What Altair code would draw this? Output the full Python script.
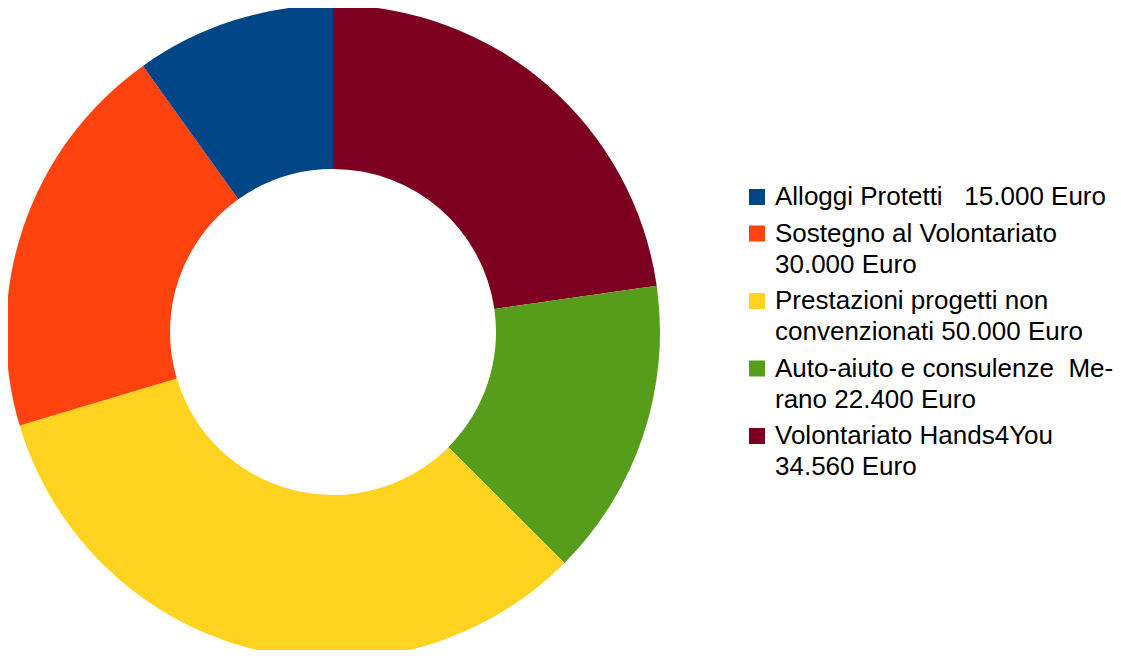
import altair as alt
import pandas as pd

# Data (clockwise from 12 o'clock in the ring)
categories = ["Volontariato Hands4You", "Auto-aiuto e consulenze Merano",
              "Prestazioni progetti non convenzionati", "Sostegno al Volontariato",
              "Alloggi Protetti"]
values = [34560, 22400, 50000, 30000, 15000]
colors = ["#7e0021", "#579d1c", "#ffd320", "#ff420e", "#004586"]

NB = "\u00a0"
# Legend (top to bottom), each entry may wrap over two lines
legend_order = ["Alloggi Protetti", "Sostegno al Volontariato",
                "Prestazioni progetti non convenzionati",
                "Auto-aiuto e consulenze Merano", "Volontariato Hands4You"]
legend_lines = [
    ["Alloggi Protetti" + NB + NB + " 15.000 Euro"],
    ["Sostegno al Volontariato", "30.000 Euro"],
    ["Prestazioni progetti non", "convenzionati 50.000 Euro"],
    ["Auto-aiuto e consulenze" + NB + " Me-", "rano 22.400 Euro"],
    ["Volontariato Hands4You", "34.560 Euro"],
]

W, H = 1105, 642
CX, CY = 325, 324
R_OUT, R_IN = 327, 163
FONT = "Liberation Sans"
FS = 26
LINE_H = 31
GAP = 5.5
LEG_TOP = 189  # center of first legend line (plot coords)
SYM_X = 749
TXT_X = 767

df = pd.DataFrame({"cat": categories, "value": values, "ord": list(range(len(categories)))})

color_scale = alt.Scale(domain=categories, range=colors)

ring = alt.Chart(df).mark_arc(radius=R_OUT, radius2=R_IN, stroke=None).encode(
    theta=alt.Theta("value:Q", stack=True),
    color=alt.Color("cat:N", scale=color_scale, legend=None),
    order=alt.Order("ord:Q"),
    x=alt.value(CX),
    y=alt.value(CY),
)

# Build legend rows
sym_rows, txt_rows = [], []
y = LEG_TOP
for cat, lines in zip(legend_order, legend_lines):
    sym_rows.append({"cat": cat, "py": y})
    for i, t in enumerate(lines):
        txt_rows.append({"cat": cat, "py": y + i * LINE_H, "txt": t})
    y += len(lines) * LINE_H + GAP

sym_df = pd.DataFrame(sym_rows)
txt_df = pd.DataFrame(txt_rows)

syms = alt.Chart(sym_df).mark_square(size=256, opacity=1).encode(
    x=alt.value(SYM_X),
    y=alt.Y("py:Q", scale=None),
    color=alt.Color("cat:N", scale=color_scale, legend=None),
)

texts = alt.Chart(txt_df).mark_text(
    align="left", baseline="middle", font=FONT, fontSize=FS, color="#000000"
).encode(
    x=alt.value(TXT_X),
    y=alt.Y("py:Q", scale=None),
    text="txt:N",
)

chart = alt.layer(ring, syms, texts).properties(
    width=W, height=H, autosize=alt.AutoSizeParams(type="none"), padding=0
).configure_view(stroke=None)

chart.save("out.html", embed_options={"renderer": "svg", "actions": False})
